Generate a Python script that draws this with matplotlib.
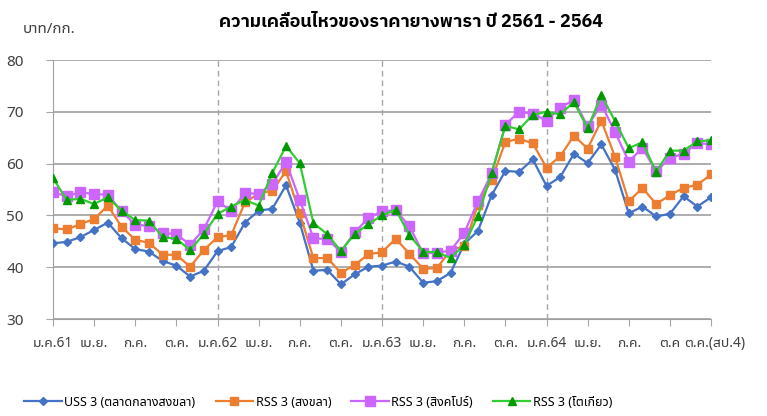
import matplotlib
matplotlib.use("Agg")
import matplotlib.pyplot as plt
import matplotlib.transforms as mtransforms
import numpy as np

plt.rcParams["font.family"] = ["Noto Sans Thai UI", "Noto Sans", "DejaVu Sans"]

# ราคายางรายเดือน ม.ค.61 - ต.ค.64 แล้วต่อด้วยรายสัปดาห์ (บาท/กก.)
uss3_songkhla_market = [
    44.6, 44.9, 45.8, 47.2, 48.6, 45.6, 43.5, 43.0, 41.2, 40.3, 38.2, 39.3,
    43.1, 43.9, 48.6, 50.9, 51.3, 55.8, 48.6, 39.3, 39.5, 36.7, 38.6, 40.1,
    40.3, 41.1, 40.1, 37.0, 37.3, 38.9, 44.5, 47.0, 53.9, 58.6, 58.4, 60.8,
    55.7, 57.4, 61.9, 60.1, 63.7, 58.8, 50.4, 51.7, 49.8, 50.3, 53.7, 51.7,
    53.5,
]
rss3_songkhla = [
    47.5, 47.3, 48.3, 49.3, 51.9, 47.8, 45.3, 44.7, 42.4, 42.4, 40.1, 43.3,
    45.8, 46.2, 52.5, 54.2, 54.8, 58.5, 50.4, 41.7, 41.8, 38.9, 40.4, 42.5,
    42.9, 45.5, 42.6, 39.7, 39.8, 43.3, 44.1, 52.1, 56.9, 64.2, 64.8, 63.9,
    59.2, 61.4, 65.4, 62.9, 68.3, 61.3, 52.7, 55.3, 52.2, 53.9, 55.3, 55.9,
    57.9,
]
rss3_singapore = [
    54.5, 53.7, 54.5, 54.1, 54.0, 50.8, 48.2, 48.0, 46.6, 46.4, 44.3, 47.3,
    52.7, 50.9, 54.3, 54.2, 56.1, 60.3, 53.0, 45.6, 45.4, 43.0, 46.7, 49.5,
    50.8, 51.0, 47.9, 42.7, 42.8, 43.2, 46.6, 52.7, 58.1, 67.5, 70.0, 69.6,
    68.3, 70.8, 72.3, 67.2, 71.4, 66.1, 60.4, 63.0, 58.5, 61.1, 61.9, 64.0,
    63.7,
]
rss3_tokyo = [
    57.2, 53.0, 53.2, 52.2, 53.5, 50.9, 49.1, 49.0, 45.8, 45.5, 43.3, 46.4,
    50.3, 51.7, 53.0, 51.9, 58.2, 63.4, 60.1, 48.5, 46.4, 43.1, 46.4, 48.3,
    50.0, 51.1, 46.2, 43.0, 42.9, 41.8, 44.3, 49.9, 58.2, 67.3, 66.6, 69.4,
    70.0, 69.5, 71.9, 66.8, 73.2, 68.2, 63.0, 64.1, 58.4, 62.5, 62.5, 64.3,
    64.5,
]

# ป้ายแกน x ทุก 3 จุด
tick_labels = [
    "ม.ค.61", "เม.ย.", "ก.ค.", "ต.ค.",
    "ม.ค.62", "เม.ย.", "ก.ค.", "ต.ค.",
    "ม.ค.63", "เม.ย.", "ก.ค.", "ต.ค.",
    "ม.ค.64", "เม.ย.", "ก.ค.", "ต.ค", "ต.ค.(สป.4)",
]
year_starts = [12, 24, 36]  # ม.ค.62, ม.ค.63, ม.ค.64

x = np.arange(len(uss3_songkhla_market))

fig = plt.figure(figsize=(7.67, 4.16), dpi=100)
ax = fig.add_axes([53 / 767, 1 - 319 / 416, (711 - 53) / 767, (319 - 60) / 416])

ax.plot(x, uss3_songkhla_market, color="#4472C4", lw=1.6, marker="D",
        markersize=4.5, label="USS 3 (ตลาดกลางสงขลา)", zorder=3)
ax.plot(x, rss3_songkhla, color="#ED7D31", lw=1.6, marker="s",
        markersize=6, label="RSS 3 (สงขลา)", zorder=4)
ax.plot(x, rss3_singapore, color="#CC66FF", lw=1.6, marker="s",
        markersize=6.5, label="RSS 3 (สิงคโปร์)", zorder=5)
ax.plot(x, rss3_tokyo, color="#33CC33", lw=1.6, marker="^",
        markersize=5.5, markerfacecolor="#009900", markeredgecolor="#009900",
        label="RSS 3 (โตเกียว)", zorder=6)

for xs in year_starts:
    ax.axvline(xs, color="#A6A6A6", lw=1, ls=(0, (4, 3)), zorder=1)

ax.set_xlim(0, len(x) - 1)
ax.set_ylim(30, 80)
ax.set_yticks([30, 40, 50, 60, 70, 80])
ax.set_xticks(np.arange(0, len(x), 3))
ax.set_xticklabels(tick_labels, fontsize=10, color="#404040")
ax.tick_params(axis="y", labelsize=11, colors="#404040", length=5,
               color="#A6A6A6", pad=16)
ax.tick_params(axis="x", length=5, color="#A6A6A6", pad=7)
ax.grid(axis="y", color="#A0A0A0", lw=1.2)
ax.set_axisbelow(True)
for side in ["top", "right"]:
    ax.spines[side].set_visible(False)
ax.spines["left"].set_color("#A0A0A0")
ax.spines["bottom"].set_color("#A0A0A0")

# ป้ายสุดท้ายเลื่อนไปทางขวาเล็กน้อย
last = ax.get_xticklabels()[-1]
last.set_transform(last.get_transform()
                   + mtransforms.ScaledTranslation(4 / 100, 0, fig.dpi_scale_trans))

fig.text(0.536, 0.947, "ความเคลื่อนไหวของราคายางพารา ปี 2561 - 2564",
         ha="center", va="center", fontsize=13, fontweight="bold",
         family=["IBM Plex Sans Thai", "Noto Sans", "DejaVu Sans"])
fig.text(0.03, 0.93, "บาท/กก.", ha="left", va="center", fontsize=11,
         color="#404040")

fig.legend(loc="center", bbox_to_anchor=(0.415, 0.033), ncol=4, frameon=False,
           fontsize=9, handlelength=3.0, columnspacing=1.6, handletextpad=0.2)

fig.savefig("out.png", dpi=100)
